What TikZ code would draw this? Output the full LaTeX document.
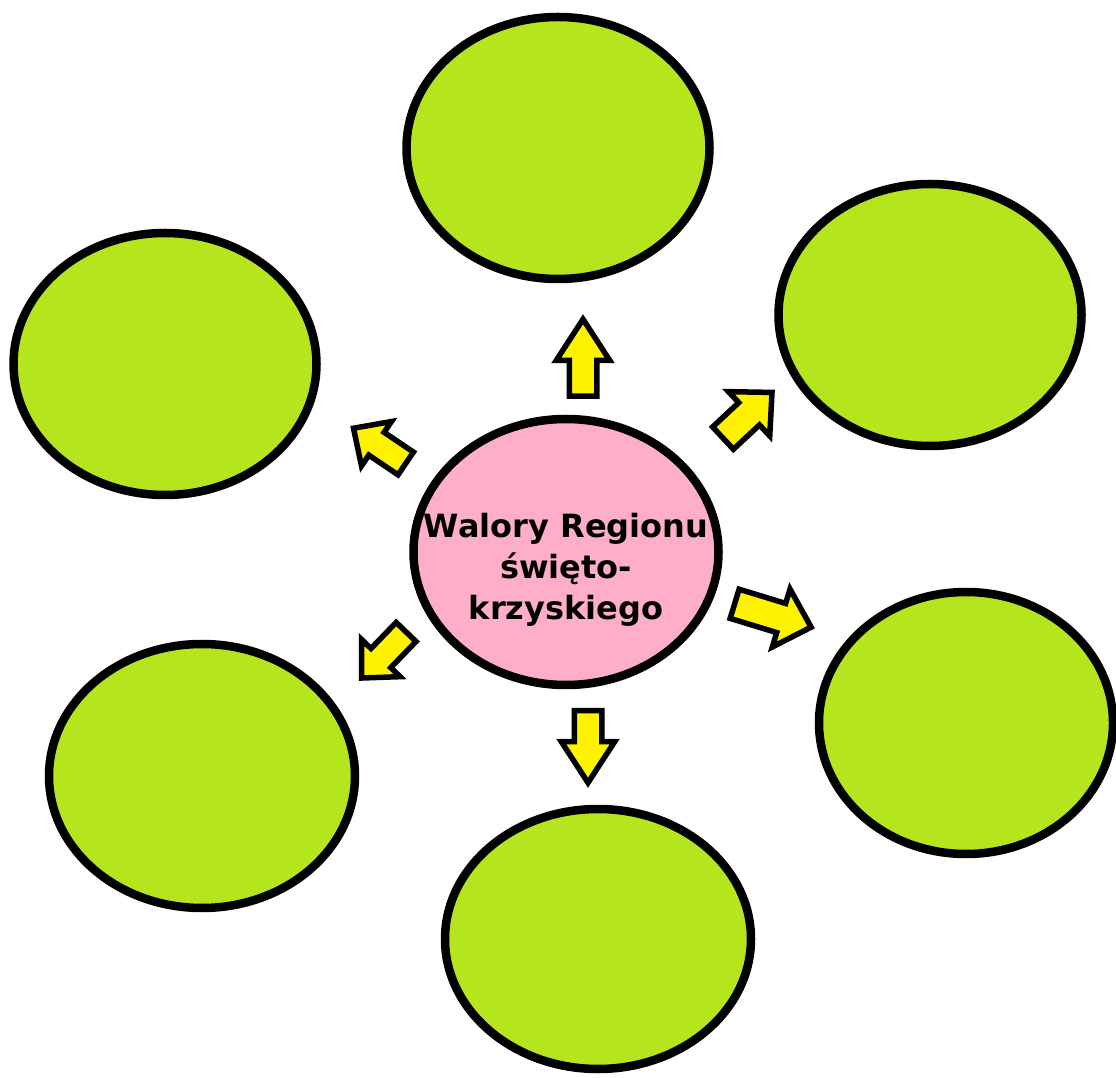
\documentclass[tikz,border=0pt]{standalone}
\usepackage{fontspec}
\usepackage{tikz}
\usetikzlibrary{shapes.geometric,shapes.arrows}
\setsansfont{DejaVu Sans}
\definecolor{lime}{HTML}{B5E61D}
\definecolor{rose}{HTML}{FFAEC9}
\definecolor{gold}{HTML}{FFF200}

\begin{document}
\begin{tikzpicture}[x=1pt,y=1pt,
  green node/.style={ellipse,draw,fill=lime,line width=8.5pt,minimum width=303pt,minimum height=262pt,inner sep=0pt},
  center node/.style={ellipse,draw,fill=rose,line width=8.5pt,minimum width=305pt,minimum height=266pt,inner sep=0pt},
  block arrow/.style={single arrow,draw,fill=gold,line width=5.5pt,inner xsep=0pt,inner ysep=11pt,single arrow head extend=13pt,single arrow tip angle=88,anchor=tail},
  title/.style={font=\sffamily\bfseries\fontsize{32}{41}\selectfont,align=center,inner sep=0pt}]

  \useasboundingbox (0,0) rectangle (1116,1077);

  \node[green node] (top) at (558,929) {};
  \node[green node] (upleft) at (165,713) {};
  \node[green node] (upright) at (930,762) {};
  \node[green node,minimum width=294pt] (downright) at (966,354) {};
  \node[green node,minimum width=306pt,minimum height=264pt] (downleft) at (202,301) {};
  \node[green node,minimum width=306pt,minimum height=260pt] (bottom) at (598,138) {};

  \node[center node] (centre) at (566,525) {};
  \node[title] (name) at (566,507) {Walory Regionu\\święto-\\krzyskiego};

  \node[block arrow,minimum height=77pt,single arrow tip angle=66,rotate=90] (a1) at (583,678) {};
  \node[block arrow,minimum height=67pt,inner ysep=12.5pt,single arrow head extend=15pt,rotate=43] (a2) at (721,637) {};
  \node[block arrow,minimum height=80pt,inner ysep=12.5pt,single arrow head extend=15pt,rotate=-17] (a3) at (732,474) {};
  \node[block arrow,minimum height=72pt,single arrow tip angle=66,rotate=-90] (a4) at (588,369) {};
  \node[block arrow,minimum height=64pt,rotate=226] (a5) at (408,447) {};
  \node[block arrow,minimum height=63pt,rotate=146] (a6) at (408,612) {};
\end{tikzpicture}
\end{document}
